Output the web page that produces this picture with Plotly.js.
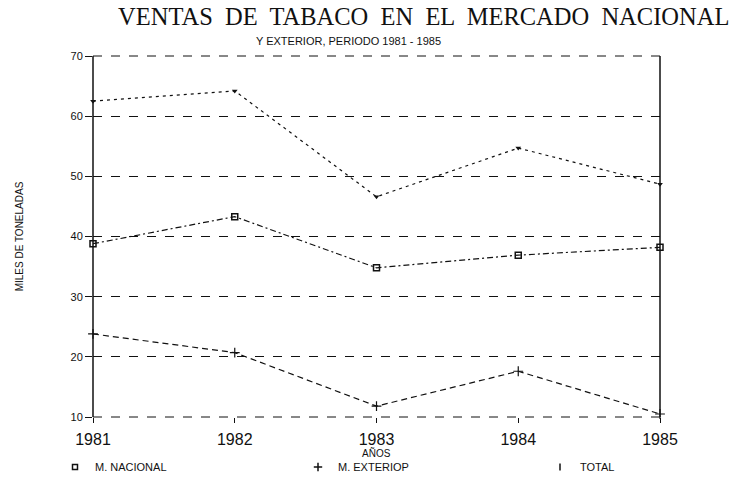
<!DOCTYPE html>
<html><head><meta charset="utf-8">
<script src="https://cdn.plot.ly/plotly-3.0.1.min.js"></script>
<style>html,body{margin:0;padding:0;background:#fff}#chart{width:746px;height:477px}</style>
</head><body><div id="chart"></div>
<script>
const years = [1981, 1982, 1983, 1984, 1985];
const nacional = [38.8, 43.3, 34.8, 36.9, 38.2];
const exterior = [23.8, 20.7, 11.8, 17.6, 10.5];
const total = [62.5, 64.2, 46.6, 54.7, 48.7];
const seriesNames = ['M. NACIONAL', 'M. EXTERIOP', 'TOTAL'];

const ink = '#111';
const traces = [
  {x: years, y: total, mode: 'lines+markers', showlegend: false, cliponaxis: false,
   line: {color: ink, width: 1.2, dash: '3px,4px'}, marker: {symbol: 'triangle-down', size: 5, color: ink}},
  {x: years, y: nacional, mode: 'lines+markers', showlegend: false, cliponaxis: false,
   line: {color: ink, width: 1.2, dash: '6px,3px,2px,3px'}, marker: {symbol: 'square-open', size: 6, color: ink, line: {width: 1.5}}},
  {x: years, y: exterior, mode: 'lines+markers', showlegend: false, cliponaxis: false,
   line: {color: ink, width: 1.2, dash: '6px,4px'}, marker: {symbol: 'cross-thin-open', size: 7, color: ink, line: {width: 1.2, color: ink}}},
  {x: [null], y: [null], mode: 'markers', name: seriesNames[0], legend: 'legend', marker: {symbol: 'square-open', size: 5, color: ink, line: {width: 1.5}}},
  {x: [null], y: [null], mode: 'markers', name: seriesNames[1], legend: 'legend2', marker: {symbol: 'cross-thin-open', size: 6, color: ink, line: {width: 1.5, color: ink}}},
  {x: [null], y: [null], mode: 'markers', name: seriesNames[2], legend: 'legend3', marker: {symbol: 'line-ns-open', size: 5, color: ink, line: {width: 1.5, color: ink}}}
];

const dashed = {color: ink, width: 1, dash: 'dash'};
const solid = {color: ink, width: 1.5};
const legendBase = {orientation: 'h', xref: 'container', yref: 'container', y: 0.021, xanchor: 'left', yanchor: 'middle',
                    itemwidth: 30, font: {size: 11}, bgcolor: 'rgba(0,0,0,0)'};
const layout = {
  width: 746, height: 477,
  margin: {l: 93, r: 86, t: 56, b: 60, autoexpand: false},
  paper_bgcolor: '#fff', plot_bgcolor: '#fff',
  font: {family: 'Liberation Sans, Arial, sans-serif', color: ink},
  title: {text: 'VENTAS  DE  TABACO  EN  EL  MERCADO  NACIONAL', x: 0.568, xanchor: 'center', y: 0.965, yanchor: 'middle',
          font: {family: 'Liberation Serif, serif', size: 24.5, color: ink}},
  annotations: [
    {text: 'Y EXTERIOR, PERIODO 1981 - 1985', xref: 'paper', yref: 'paper', x: 0.45, y: 1.0, yanchor: 'bottom', xanchor: 'center',
     yshift: 7, showarrow: false, font: {size: 11, color: ink}},
    {text: 'AÑOS', xref: 'paper', yref: 'paper', x: 0.5, y: 0, yanchor: 'middle', xanchor: 'center',
     yshift: -36, showarrow: false, font: {size: 10, color: ink}}
  ],
  shapes: [
    {type: 'line', xref: 'paper', yref: 'paper', x0: 0, x1: 0, y0: 0, y1: 1, line: solid},
    {type: 'line', xref: 'paper', yref: 'paper', x0: 1, x1: 1, y0: 0, y1: 1, line: solid},
    {type: 'line', xref: 'paper', yref: 'paper', x0: 0, x1: 1, y0: 1, y1: 1, line: dashed},
    {type: 'line', xref: 'paper', yref: 'paper', x0: 0, x1: 1, y0: 0, y1: 0, line: dashed}
  ],
  xaxis: {
    range: [1981, 1985], tickvals: years, ticktext: years.map(String),
    showgrid: false, zeroline: false, showline: false,
    ticks: 'outside', ticklen: 5, tickcolor: ink, tickfont: {size: 16}, ticklabelstandoff: 3
  },
  yaxis: {
    range: [10, 70], dtick: 10, tick0: 10,
    showgrid: true, gridcolor: ink, gridwidth: 1, griddash: 'dash',
    zeroline: false, showline: false,
    ticks: 'outside', ticklen: 7, tickcolor: ink, tickfont: {size: 11},
    title: {text: 'MILES DE TONELADAS', font: {size: 10}, standoff: 45}
  },
  legend: Object.assign({}, legendBase, {x: 55 / 746}),
  legend2: Object.assign({}, legendBase, {x: 298 / 746}),
  legend3: Object.assign({}, legendBase, {x: 540 / 746})
};
Plotly.newPlot('chart', traces, layout, {displayModeBar: false, staticPlot: true});
</script></body></html>
